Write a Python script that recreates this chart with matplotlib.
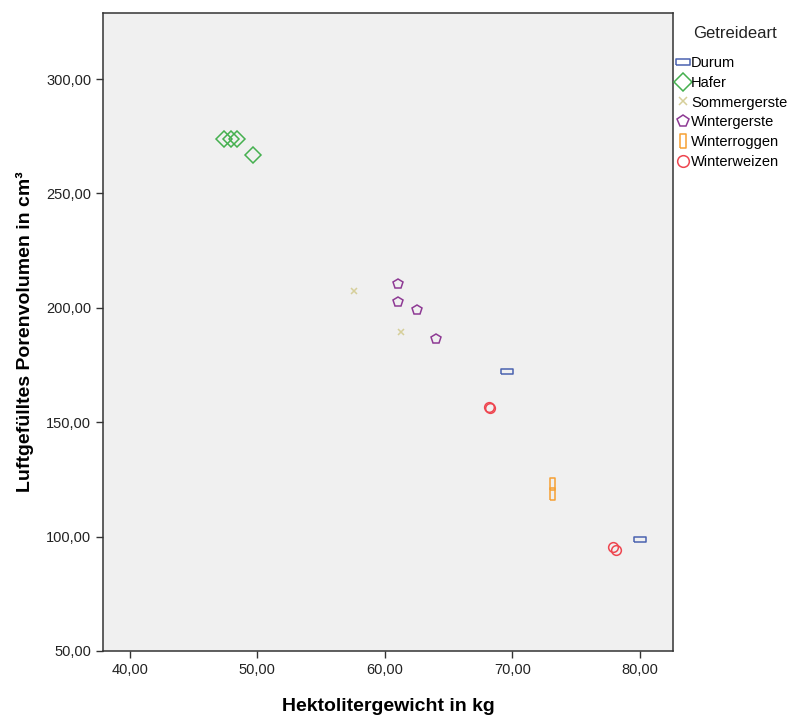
import matplotlib.pyplot as plt
import numpy as np

# Daten
durum_x = [69.6, 80.0]
durum_y = [172.5, 99.0]
hafer_x = [47.4, 47.9, 48.4, 49.7]
hafer_y = [274.0, 274.0, 274.0, 267.0]
sommer_x = [57.6, 61.3]
sommer_y = [207.3, 189.3]
winterg_x = [61.0, 61.0, 62.5, 64.0]
winterg_y = [210.5, 202.5, 199.2, 186.2]
winterr_x = [73.1, 73.1]
winterr_y = [123.0, 118.5]
winterw_x = [68.2, 68.25, 77.9, 78.1]
winterw_y = [156.5, 156.3, 95.6, 94.2]

x_ticks = [40, 50, 60, 70, 80]
y_ticks = [50, 100, 150, 200, 250, 300]

fam = ['Liberation Sans Narrow', 'Liberation Sans', 'DejaVu Sans']
plt.rcParams['font.family'] = fam

# Rechteck-Marker (breit / hoch)
rect_wide = [(-1, -0.45), (1, -0.45), (1, 0.45), (-1, 0.45), (-1, -0.45)]
rect_tall = [(-0.45, -1), (0.45, -1), (0.45, 1), (-0.45, 1), (-0.45, -1)]

gruppen = [
    ('Durum', durum_x, durum_y, rect_wide, '#4a62b0', 8),
    ('Hafer', hafer_x, hafer_y, 'D', '#45b04f', 8),
    ('Sommergerste', sommer_x, sommer_y, 'x', '#d6cf9a', 5),
    ('Wintergerste', winterg_x, winterg_y, 'p', '#8e3a94', 7),
    ('Winterroggen', winterr_x, winterr_y, rect_tall, '#f6a033', 8),
    ('Winterweizen', winterw_x, winterw_y, 'o', '#ee4650', 7),
]

fig = plt.figure(figsize=(7.98, 7.15), dpi=100)
ax = fig.add_axes([103 / 798, 64 / 715, 570 / 798, 638 / 715])
ax.set_facecolor('#f0f0f0')

for name, xs, ys, m, c, ms in gruppen:
    ax.plot(xs, ys, ls='', marker=m, ms=ms, mfc='none', mec=c, mew=1.1, label=name)

ax.set_xlim(37.9, 82.6)
ax.set_ylim(50, 328.9)
ax.set_xticks(x_ticks)
ax.set_yticks(y_ticks)
ax.set_xticklabels([f'{v:.2f}'.replace('.', ',') for v in x_ticks])
ax.set_yticklabels([f'{v:.2f}'.replace('.', ',') for v in y_ticks])
ax.tick_params(direction='out', length=5, width=1, colors='#333333', labelsize=10.5, labelcolor='#222222')

for s in ax.spines.values():
    s.set_color('#333333')
    s.set_linewidth(1.1)

ax.set_xlabel('Hektolitergewicht in kg', fontsize=14, fontweight='bold', labelpad=15)
ax.set_ylabel('Luftgefülltes Porenvolumen in cm³', fontsize=14, fontweight='bold', labelpad=9)

# Legende: Titel separat, damit der Abstand passt
fig.text(735 / 798, 1 - 33 / 715, 'Getreideart', fontsize=12, ha='center', va='center', color='#222222')
leg = ax.legend(loc='upper left', bbox_to_anchor=(1.002, 1 - 40 / 638), frameon=False,
                fontsize=10.5, handlelength=0.75, handletextpad=0.2,
                labelspacing=0.4, borderaxespad=0.0, borderpad=0.2, markerscale=1.2)

fig.savefig('out.png', dpi=100)
